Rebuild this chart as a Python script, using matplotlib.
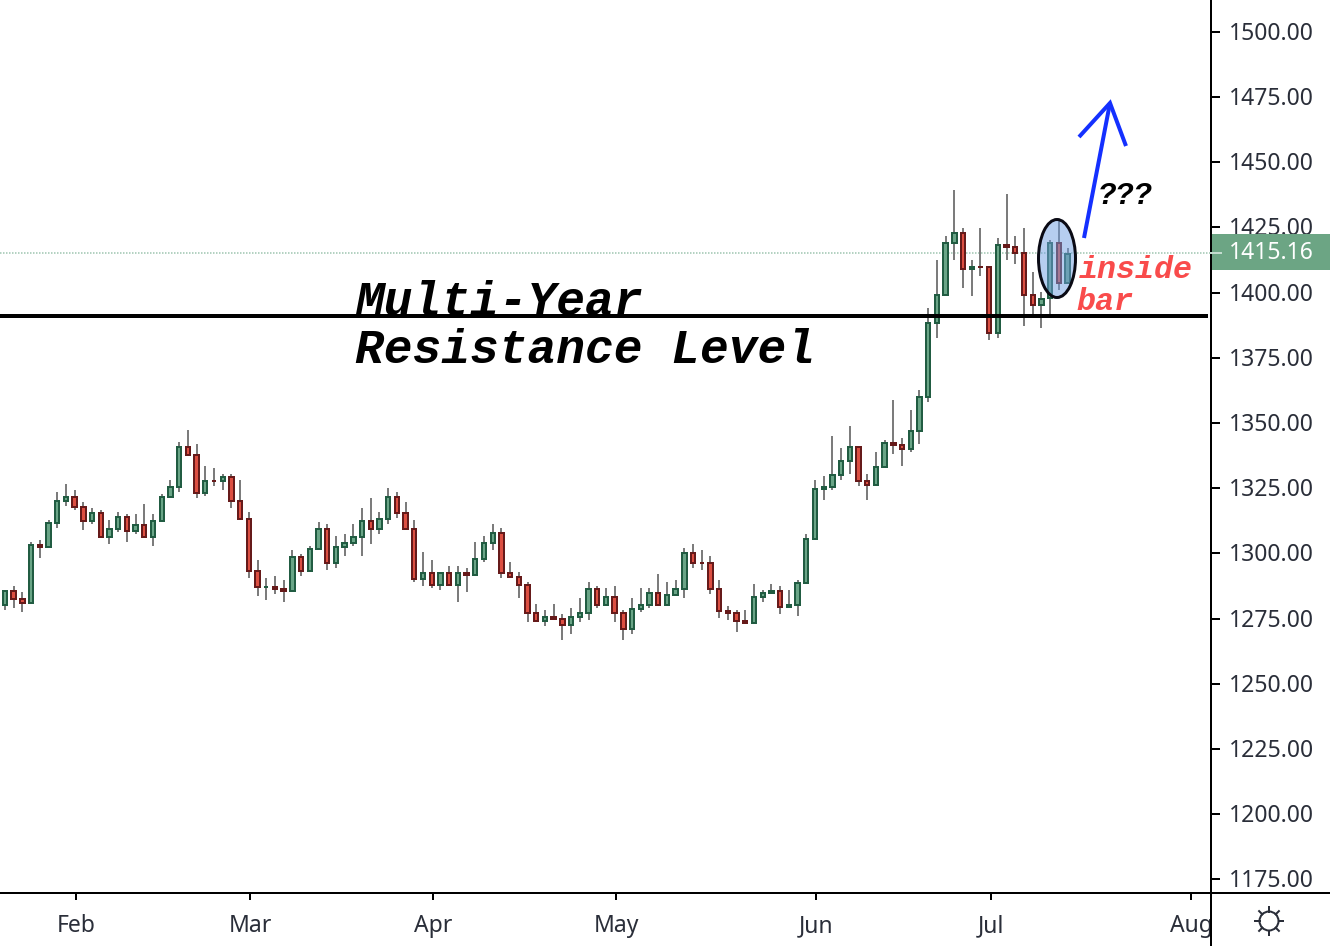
import matplotlib
matplotlib.use("Agg")

import matplotlib.pyplot as plt
import matplotlib.transforms as mtransforms
import numpy as np
from matplotlib.patches import Circle, Ellipse, Rectangle

WIDTH_PX = 1330
HEIGHT_PX = 946
DPI = 100

# daily candles, one entry per trading day
open_ = [
    1279.9, 1286.0, 1282.9, 1280.6, 1303.6, 1302.1, 1311.3, 1319.8, 1322.0, 1318.2,
    1312.1, 1315.9, 1306.0, 1309.0, 1314.4, 1308.3, 1311.3, 1306.0, 1312.1, 1321.3,
    1325.1, 1341.2, 1338.2, 1322.8, 1328.2, 1327.4, 1329.7, 1320.5, 1313.6, 1293.7,
    1286.8, 1287.5, 1286.8, 1285.2, 1299.0, 1292.9, 1301.3, 1309.8, 1296.0, 1302.1,
    1303.6, 1306.0, 1312.8, 1309.0, 1312.8, 1322.0, 1315.9, 1309.8, 1289.8, 1292.9,
    1287.5, 1292.9, 1287.5, 1292.9, 1291.4, 1297.5, 1303.6, 1308.2, 1292.9, 1291.4,
    1288.3, 1277.6, 1273.7, 1276.0, 1275.3, 1272.2, 1275.3, 1276.8, 1286.8, 1279.9,
    1283.7, 1277.6, 1270.7, 1278.3, 1279.9, 1285.2, 1279.9, 1283.7, 1286.0, 1300.6,
    1296.7, 1296.7, 1286.8, 1278.3, 1277.6, 1274.5, 1273.0, 1282.9, 1284.5, 1286.0,
    1279.1, 1279.9, 1288.3, 1305.2, 1324.3, 1325.1, 1329.7, 1335.1, 1341.2, 1328.2,
    1325.9, 1332.8, 1342.8, 1342.0, 1339.7, 1346.6, 1359.6, 1388.0, 1398.7, 1418.7,
    1423.3, 1408.7, 1410.2, 1410.2, 1384.2, 1418.7, 1417.9, 1415.6, 1399.5, 1394.9,
    1397.4, 1419.4, 1403.3,
]
close = [
    1286.0, 1282.2, 1280.6, 1303.6, 1302.1, 1312.1, 1320.5, 1322.0, 1317.4, 1312.1,
    1315.9, 1306.0, 1309.8, 1314.4, 1308.3, 1311.3, 1306.0, 1312.8, 1322.0, 1325.9,
    1341.2, 1337.4, 1322.8, 1328.2, 1327.4, 1329.7, 1319.8, 1312.8, 1292.9, 1286.8,
    1287.5, 1286.0, 1285.2, 1299.0, 1292.9, 1302.1, 1309.8, 1296.0, 1302.9, 1304.4,
    1306.7, 1312.8, 1309.0, 1313.6, 1322.0, 1315.1, 1309.0, 1289.8, 1292.9, 1287.5,
    1292.9, 1287.5, 1292.9, 1291.4, 1298.3, 1304.4, 1308.2, 1292.1, 1290.6, 1287.5,
    1276.8, 1273.7, 1276.0, 1274.5, 1272.2, 1276.0, 1277.6, 1286.8, 1279.9, 1283.7,
    1276.8, 1270.7, 1279.1, 1280.6, 1285.2, 1279.9, 1284.5, 1286.8, 1300.6, 1296.0,
    1296.0, 1286.0, 1277.6, 1276.8, 1273.7, 1273.0, 1283.7, 1285.2, 1286.0, 1279.1,
    1280.6, 1289.1, 1305.9, 1325.1, 1325.9, 1330.5, 1335.9, 1341.2, 1327.4, 1325.9,
    1333.6, 1342.8, 1341.2, 1339.7, 1347.4, 1360.4, 1388.8, 1399.5, 1419.4, 1423.3,
    1408.7, 1410.2, 1409.5, 1384.2, 1418.7, 1417.1, 1414.8, 1398.7, 1394.9, 1398.0,
    1419.4, 1403.3, 1415.16,
]
high = [
    1286.0, 1287.5, 1285.2, 1304.4, 1305.2, 1312.8, 1323.6, 1326.7, 1324.3, 1319.8,
    1317.4, 1316.7, 1312.8, 1315.9, 1315.2, 1315.2, 1319.0, 1315.2, 1322.8, 1328.2,
    1342.8, 1347.4, 1342.0, 1333.6, 1332.8, 1330.5, 1330.5, 1328.2, 1315.9, 1297.5,
    1290.6, 1291.4, 1289.8, 1301.3, 1299.8, 1302.9, 1312.1, 1311.3, 1306.7, 1307.5,
    1311.3, 1317.4, 1321.3, 1315.9, 1325.1, 1323.6, 1319.7, 1312.8, 1300.6, 1297.5,
    1292.9, 1295.2, 1295.2, 1294.4, 1304.4, 1306.7, 1311.3, 1309.8, 1296.7, 1292.9,
    1289.1, 1280.6, 1278.3, 1280.6, 1276.8, 1279.1, 1282.9, 1289.1, 1287.5, 1286.8,
    1287.5, 1278.3, 1282.9, 1286.8, 1286.8, 1292.1, 1289.1, 1289.8, 1302.1, 1303.6,
    1301.3, 1299.0, 1289.8, 1279.9, 1278.3, 1278.3, 1288.3, 1286.0, 1288.3, 1287.5,
    1286.0, 1289.8, 1307.5, 1328.2, 1329.7, 1345.0, 1340.5, 1348.9, 1341.2, 1330.5,
    1338.9, 1343.5, 1358.9, 1344.3, 1355.0, 1362.7, 1394.1, 1412.5, 1421.7, 1439.4,
    1424.8, 1412.5, 1424.8, 1410.2, 1421.0, 1437.8, 1421.7, 1424.8, 1407.9, 1400.3,
    1420.0, 1427.9, 1417.1,
]
low = [
    1278.3, 1279.1, 1277.6, 1280.6, 1298.3, 1302.1, 1309.8, 1318.2, 1316.7, 1309.0,
    1311.3, 1306.0, 1303.6, 1308.3, 1304.4, 1307.5, 1306.0, 1302.9, 1312.1, 1321.3,
    1323.6, 1337.4, 1321.3, 1322.0, 1325.9, 1324.3, 1317.4, 1312.8, 1290.6, 1283.7,
    1282.2, 1284.5, 1281.4, 1285.2, 1291.4, 1292.9, 1301.3, 1293.7, 1294.4, 1299.0,
    1302.9, 1299.0, 1303.6, 1307.5, 1311.3, 1313.6, 1309.0, 1289.1, 1287.5, 1286.8,
    1286.0, 1287.5, 1281.4, 1285.2, 1291.4, 1296.7, 1301.3, 1290.6, 1290.6, 1282.9,
    1273.7, 1273.7, 1272.2, 1274.5, 1266.8, 1269.1, 1273.7, 1274.5, 1279.1, 1279.9,
    1273.7, 1266.8, 1269.1, 1277.6, 1279.1, 1279.9, 1279.9, 1283.7, 1282.9, 1294.4,
    1293.7, 1284.5, 1275.3, 1274.5, 1269.9, 1273.0, 1273.0, 1281.4, 1284.5, 1276.8,
    1279.1, 1276.0, 1288.3, 1305.2, 1320.5, 1324.3, 1328.2, 1330.5, 1325.9, 1320.5,
    1325.9, 1332.8, 1338.2, 1333.6, 1338.9, 1342.0, 1358.1, 1382.6, 1398.7, 1412.5,
    1401.8, 1398.7, 1406.4, 1381.9, 1382.6, 1412.5, 1411.0, 1387.2, 1391.1, 1386.4,
    1391.8, 1401.0, 1403.3,
]

month_ticks = [8.17, 28.17, 49.17, 70.17, 93.17, 113.17, 136.17]
month_labels = ["Feb", "Mar", "Apr", "May", "Jun", "Jul", "Aug"]
price_ticks = [1175, 1200, 1225, 1250, 1275, 1300, 1325, 1350, 1375, 1400, 1425, 1450, 1475, 1500]
resistance = 1391.07
last_price = 1415.16

px = 72 / DPI  # one pixel in points
FONT = "Noto Sans"
TEXT_COLOR = "#2a2e39"

plt.rcParams["font.family"] = FONT

fig = plt.figure(figsize=(WIDTH_PX / DPI, HEIGHT_PX / DPI), dpi=DPI)
ax = fig.add_axes([0, 53 / HEIGHT_PX, 1211 / WIDTH_PX, 893 / HEIGHT_PX])
ax.set_xlim(-0.57, 138.47)
ax.set_ylim(1169.8, 1512.2)

o = np.array(open_)
c = np.array(close)
h = np.array(high)
l = np.array(low)
x = np.arange(len(o))
up = c >= o

ax.vlines(x, l, h, color="#7c7c7c", lw=2 * px, zorder=2)

# body edges sit outside the rectangle, so pull it in by half the edge width
inset = 1 / 2.608
top = np.maximum(o, c) - inset
bot = np.minimum(o, c) + inset
height = np.maximum(top - bot, 0.01)
ax.bar(x[up], height[up], bottom=bot[up], width=0.5, color="#6aa587",
       edgecolor="#215c42", lw=2 * px, zorder=3)
ax.bar(x[~up], height[~up], bottom=bot[~up], width=0.5, color="#dc4f42",
       edgecolor="#661a1a", lw=2 * px, zorder=3)

ax.axhline(last_price, color="#9cc4ae", lw=1.5 * px, ls=(0, (1, 1)), zorder=1)
ax.plot([-0.57, 138.1], [resistance, resistance], color="black", lw=4 * px, zorder=4,
        solid_capstyle="butt")

for side in ["top", "left", "right", "bottom"]:
    ax.spines[side].set_visible(False)

ax.yaxis.tick_right()
ax.set_yticks(price_ticks)
ax.set_yticklabels([f"{p:.2f}" for p in price_ticks])
ax.set_xticks(month_ticks)
ax.set_xticklabels(month_labels)
ax.tick_params(axis="y", length=9 * px, width=2 * px, color="black", pad=8.5 * px,
               labelsize=16.5, labelcolor=TEXT_COLOR)
ax.tick_params(axis="x", length=7 * px, width=2 * px, color="black", pad=14 * px,
               labelsize=16.5, labelcolor=TEXT_COLOR)

# price labels sit one pixel higher than the tick
nudge = mtransforms.ScaledTranslation(0, 1 * px / 72, fig.dpi_scale_trans)
for label in ax.get_yticklabels():
    label.set_transform(label.get_transform() + nudge)

# overlay in screen pixels for the drawn annotations
ov = fig.add_axes([0, 0, 1, 1])
ov.set_xlim(0, WIDTH_PX)
ov.set_ylim(HEIGHT_PX, 0)
ov.axis("off")
ov.patch.set_alpha(0)

ov.plot([0, WIDTH_PX], [893, 893], color="black", lw=2 * px)
ov.plot([1211, 1211], [0, HEIGHT_PX], color="black", lw=2 * px)

ov.add_patch(Rectangle((1212, 234), 118, 36, color="#6ca584", lw=0, zorder=3))
ov.plot([1211, 1221], [253, 253], color="#c4dccf", lw=2 * px, zorder=4)
ov.text(1271, 253, f"{last_price:.2f}", color="white", fontsize=16.5, ha="center",
        va="center", zorder=5)

ov.add_patch(Ellipse((1057, 258.5), 37, 78, facecolor="#6f9fe3", alpha=0.5, lw=0, zorder=6))
ov.add_patch(Ellipse((1057, 258.5), 37, 78, facecolor="none", edgecolor="#0a0a14",
                     lw=3 * px, zorder=7))

ov.plot([1084, 1110], [238, 103], color="#1430ff", lw=4 * px, zorder=7, solid_capstyle="butt")
ov.plot([1079, 1110, 1126], [137, 103, 146], color="#1430ff", lw=4 * px, zorder=7,
        solid_joinstyle="miter", solid_capstyle="butt")

mono = {"family": "Liberation Mono", "weight": "bold", "style": "italic"}
ov.text(355, 315, "Multi-Year", fontsize=34.5, color="black", va="baseline", zorder=8, **mono)
ov.text(355, 363, "Resistance Level", fontsize=34.5, color="black", va="baseline", zorder=8, **mono)
ov.text(1079, 278, "inside", fontsize=22.8, color="#f94b4b", va="baseline", zorder=8, **mono)
ov.text(1076, 310, "bar", fontsize=22.8, color="#f94b4b", va="baseline", zorder=8, **mono)
ov.text(1098, 204, "???", fontsize=22, color="black", va="baseline", zorder=8, **mono)

# settings icon below the price scale
ov.add_patch(Circle((1269, 921), 9.5, facecolor="none", edgecolor=TEXT_COLOR, lw=2 * px))
for angle in np.arange(0, 360, 45):
    dx, dy = np.cos(np.radians(angle)), np.sin(np.radians(angle))
    ov.plot([1269 + 9.5 * dx, 1269 + 14 * dx], [921 + 9.5 * dy, 921 + 14 * dy],
            color=TEXT_COLOR, lw=2 * px)

fig.savefig("out.png", dpi=DPI)
